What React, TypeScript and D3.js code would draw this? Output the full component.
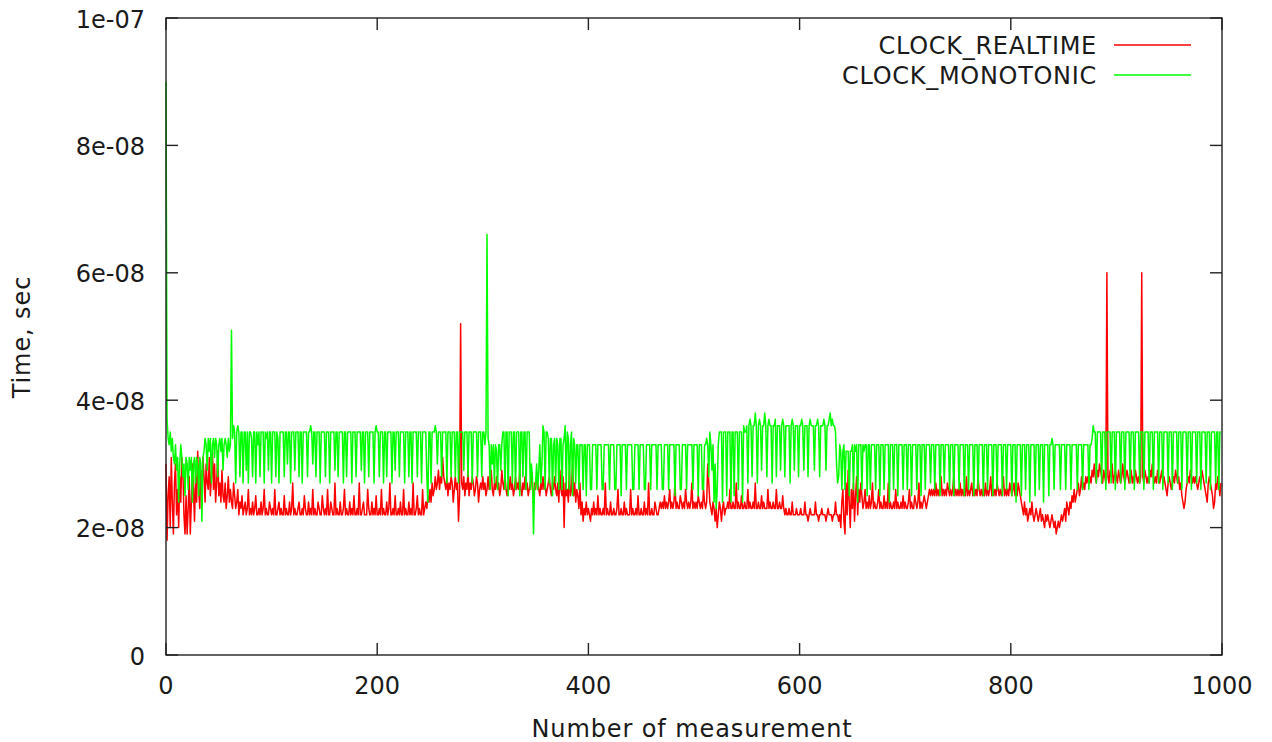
import React from 'react';
import * as d3 from 'd3';

// Tick values and labels
const xTicks = [0, 200, 400, 600, 800, 1000];
const yTicks = [0, 2e-8, 4e-8, 6e-8, 8e-8, 1e-7];
const yTickLabels = ['0', '2e-08', '4e-08', '6e-08', '8e-08', '1e-07'];

const seriesNames = ['CLOCK_REALTIME', 'CLOCK_MONOTONIC'];
const seriesColors = ['#ff0000', '#00ff00'];

// Measured call durations, nanoseconds, one value per measurement
const realtimeNs = [
  30, 18, 25, 28, 20, 31, 24, 19, 27, 30, 22, 26, 20, 28, 24, 31, 29, 22, 19, 25, 19, 23, 28, 19, 24,
  30, 26, 21, 28, 24, 32, 26, 23, 29, 25, 31, 28, 24, 30, 27, 26, 31, 25, 28, 32, 26, 30, 24, 27, 32,
  25, 27, 24, 29, 25, 24, 27, 23, 25, 28, 24, 26, 24, 23, 27, 25, 23, 24, 26, 22, 24, 23, 25, 22, 23,
  24, 22, 23, 26, 22, 23, 22, 24, 22, 23, 25, 22, 22, 23, 22, 24, 22, 23, 26, 22, 23, 22, 22, 24, 23,
  22, 23, 22, 26, 22, 22, 23, 24, 22, 23, 22, 22, 25, 22, 23, 22, 22, 24, 22, 23, 27, 22, 23, 22, 22,
  23, 24, 22, 22, 23, 22, 25, 23, 22, 22, 24, 22, 23, 22, 26, 22, 23, 22, 22, 24, 23, 22, 22, 25, 23,
  22, 23, 22, 26, 22, 22, 24, 23, 22, 22, 27, 22, 23, 22, 22, 24, 22, 22, 23, 26, 22, 23, 22, 22, 24,
  22, 23, 22, 25, 22, 22, 23, 22, 27, 22, 22, 23, 24, 22, 22, 22, 26, 23, 22, 22, 24, 22, 23, 22, 25,
  22, 22, 23, 22, 26, 22, 23, 22, 22, 24, 22, 23, 27, 22, 22, 23, 22, 25, 22, 22, 23, 22, 24, 22, 22,
  26, 22, 23, 22, 22, 24, 22, 23, 22, 27, 22, 22, 23, 25, 22, 23, 22, 22, 26, 22, 23, 24, 23, 25, 24,
  26, 24, 27, 25, 26, 28, 26, 27, 29, 26, 28, 27, 31, 28, 27, 26, 28, 25, 27, 26, 28, 27, 24, 26, 28,
  26, 27, 21, 25, 52, 27, 26, 28, 25, 27, 26, 29, 25, 27, 26, 28, 27, 25, 26, 28, 27, 24, 26, 27, 26,
  28, 26, 27, 25, 26, 28, 26, 27, 29, 26, 25, 27, 26, 28, 26, 27, 25, 26, 29, 27, 26, 28, 26, 25, 27,
  26, 28, 26, 27, 25, 26, 28, 26, 27, 26, 29, 26, 25, 27, 26, 28, 26, 27, 25, 26, 27, 28, 26, 25, 27,
  26, 28, 27, 26, 25, 27, 26, 28, 26, 27, 25, 26, 27, 28, 26, 25, 27, 26, 28, 26, 25, 27, 24, 29, 26,
  25, 28, 20, 27, 25, 26, 24, 29, 25, 26, 30, 25, 27, 24, 26, 25, 23, 27, 22, 24, 21, 23, 22, 24, 22,
  23, 22, 21, 23, 22, 24, 22, 23, 22, 25, 22, 23, 22, 22, 23, 22, 27, 22, 23, 22, 22, 24, 22, 22, 23,
  22, 22, 23, 26, 22, 22, 23, 22, 22, 24, 22, 23, 22, 22, 22, 26, 22, 23, 22, 22, 23, 22, 25, 22, 22,
  23, 22, 22, 24, 22, 23, 22, 27, 22, 22, 23, 22, 22, 24, 23, 22, 22, 23, 24, 23, 24, 23, 25, 23, 24,
  23, 24, 26, 23, 24, 23, 24, 27, 23, 24, 23, 23, 25, 24, 23, 24, 23, 26, 24, 23, 24, 23, 24, 27, 23,
  24, 23, 24, 23, 25, 24, 23, 24, 23, 26, 24, 23, 24, 30, 27, 24, 23, 22, 24, 23, 21, 23, 20, 22, 24,
  23, 21, 23, 24, 22, 23, 23, 24, 23, 26, 23, 23, 24, 23, 23, 27, 23, 24, 23, 23, 25, 23, 23, 24, 23,
  23, 26, 23, 24, 23, 23, 24, 23, 27, 23, 23, 24, 23, 23, 25, 23, 24, 23, 23, 23, 26, 23, 24, 23, 23,
  24, 23, 23, 26, 23, 23, 24, 23, 23, 25, 23, 22, 23, 22, 22, 23, 22, 22, 24, 22, 22, 22, 23, 22, 22,
  22, 23, 22, 22, 22, 24, 22, 22, 21, 22, 23, 22, 22, 22, 22, 24, 22, 22, 21, 22, 22, 23, 22, 22, 22,
  21, 22, 23, 22, 22, 22, 21, 22, 22, 24, 22, 22, 21, 22, 20, 24, 26, 21, 19, 27, 22, 29, 24, 20, 26,
  23, 27, 21, 25, 28, 22, 26, 24, 27, 25, 23, 24, 26, 23, 24, 23, 25, 23, 24, 27, 23, 24, 23, 23, 24,
  26, 23, 24, 23, 23, 25, 23, 24, 23, 27, 23, 24, 23, 23, 24, 23, 26, 23, 24, 23, 23, 24, 23, 25, 23,
  24, 23, 23, 24, 26, 23, 24, 23, 23, 25, 24, 23, 24, 27, 23, 24, 23, 24, 25, 24, 23, 24, 25, 26, 25,
  26, 25, 26, 25, 27, 25, 26, 25, 26, 28, 25, 26, 25, 26, 25, 27, 26, 25, 26, 25, 26, 28, 25, 26, 25,
  26, 25, 27, 25, 26, 25, 26, 25, 28, 25, 26, 25, 26, 27, 25, 26, 25, 26, 25, 28, 26, 25, 26, 25, 26,
  25, 27, 25, 26, 25, 26, 28, 25, 26, 25, 26, 25, 27, 26, 25, 26, 25, 26, 28, 25, 26, 25, 26, 25, 27,
  26, 25, 26, 27, 25, 26, 25, 27, 26, 25, 24, 23, 22, 24, 22, 23, 21, 22, 23, 22, 24, 22, 21, 22, 23,
  22, 21, 22, 23, 21, 22, 21, 20, 22, 21, 22, 21, 20, 21, 22, 21, 20, 21, 19, 20, 21, 20, 21, 22, 21,
  22, 23, 21, 24, 23, 22, 24, 23, 25, 24, 26, 24, 25, 26, 27, 25, 26, 28, 26, 27, 26, 28, 27, 28, 27,
  28, 27, 29, 28, 30, 28, 27, 29, 28, 30, 29, 28, 27, 29, 28, 27, 60, 28, 27, 29, 28, 30, 27, 28, 29,
  28, 27, 29, 28, 27, 28, 30, 28, 27, 28, 29, 28, 27, 28, 29, 27, 28, 27, 29, 28, 27, 28, 27, 28, 60,
  28, 27, 29, 28, 27, 28, 27, 29, 28, 30, 28, 27, 28, 27, 29, 28, 27, 28, 29, 27, 28, 27, 26, 25, 27,
  28, 27, 26, 27, 28, 27, 29, 28, 27, 28, 26, 27, 25, 24, 23, 24, 26, 27, 28, 27, 29, 28, 27, 28, 27,
  28, 27, 26, 27, 28, 27, 29, 28, 27, 26, 25, 24, 27, 28, 27, 26, 25, 23, 24, 27, 26, 28, 27, 25, 27,
];

const monotonicNs = [
  90, 37, 34, 33, 35, 32, 34, 31, 30, 33, 29, 31, 24, 30, 33, 31, 28, 30, 25, 31, 30, 26, 31, 29, 31,
  24, 30, 31, 27, 31, 30, 25, 31, 30, 21, 31, 32, 34, 33, 29, 34, 32, 34, 27, 33, 34, 31, 34, 33, 28,
  33, 34, 32, 34, 29, 33, 34, 33, 31, 34, 32, 33, 51, 34, 36, 35, 27, 35, 36, 35, 28, 35, 35, 27, 35,
  35, 29, 35, 27, 35, 35, 34, 28, 35, 35, 27, 35, 33, 35, 28, 35, 35, 35, 27, 35, 34, 35, 29, 35, 35,
  27, 35, 35, 35, 28, 35, 34, 27, 35, 35, 35, 35, 28, 35, 35, 30, 35, 35, 27, 35, 35, 35, 29, 35, 35,
  35, 28, 35, 35, 27, 35, 35, 35, 35, 28, 35, 35, 36, 35, 30, 35, 35, 28, 35, 35, 35, 27, 35, 35, 35,
  35, 28, 35, 35, 35, 27, 35, 35, 35, 35, 29, 35, 35, 28, 35, 35, 35, 35, 27, 35, 35, 28, 35, 35, 35,
  35, 27, 35, 35, 35, 28, 35, 35, 35, 35, 29, 35, 35, 27, 35, 35, 35, 28, 35, 35, 35, 35, 27, 35, 36,
  35, 35, 28, 35, 35, 35, 27, 35, 35, 28, 35, 35, 35, 35, 27, 35, 35, 29, 35, 35, 35, 28, 35, 35, 35,
  35, 27, 35, 35, 35, 28, 35, 35, 27, 35, 35, 35, 35, 28, 35, 35, 35, 27, 35, 35, 35, 35, 28, 24, 35,
  35, 27, 35, 35, 35, 36, 35, 30, 35, 35, 35, 28, 35, 35, 35, 35, 27, 35, 35, 35, 28, 35, 35, 35, 28,
  35, 35, 27, 35, 35, 35, 35, 29, 35, 35, 35, 28, 35, 35, 35, 27, 35, 35, 35, 35, 28, 35, 35, 35, 28,
  35, 35, 33, 35, 66, 34, 33, 26, 33, 30, 33, 27, 33, 32, 26, 33, 33, 29, 33, 35, 35, 26, 35, 35, 25,
  35, 35, 35, 27, 35, 35, 26, 35, 35, 35, 25, 35, 35, 28, 35, 35, 26, 35, 35, 35, 26, 30, 28, 19, 26,
  27, 30, 26, 29, 33, 27, 30, 36, 35, 26, 35, 35, 34, 27, 34, 34, 25, 33, 34, 27, 34, 33, 26, 34, 34,
  26, 33, 34, 36, 26, 35, 34, 26, 33, 35, 25, 34, 33, 27, 33, 33, 26, 33, 33, 33, 26, 33, 33, 25, 33,
  33, 33, 26, 26, 33, 33, 33, 33, 26, 33, 33, 33, 33, 26, 26, 33, 33, 33, 33, 33, 26, 33, 33, 33, 33,
  26, 26, 33, 33, 33, 33, 25, 33, 33, 33, 33, 26, 33, 33, 33, 33, 33, 26, 26, 33, 33, 33, 33, 26, 33,
  33, 33, 33, 26, 26, 33, 33, 33, 33, 26, 33, 33, 33, 33, 33, 26, 33, 33, 33, 33, 26, 26, 33, 33, 33,
  33, 26, 33, 33, 33, 33, 33, 25, 33, 33, 33, 33, 26, 26, 33, 33, 33, 33, 26, 33, 33, 33, 33, 33, 26,
  33, 33, 33, 33, 25, 33, 33, 33, 26, 26, 33, 33, 34, 33, 28, 35, 33, 29, 33, 24, 30, 23, 26, 33, 35,
  35, 35, 24, 35, 35, 35, 25, 35, 35, 35, 24, 35, 35, 25, 35, 35, 35, 26, 35, 35, 35, 24, 36, 35, 35,
  36, 27, 36, 37, 36, 28, 36, 36, 38, 36, 27, 36, 37, 36, 29, 36, 36, 38, 36, 28, 36, 37, 36, 36, 27,
  36, 36, 37, 28, 36, 36, 36, 29, 36, 37, 36, 28, 36, 36, 36, 36, 27, 36, 37, 36, 29, 36, 36, 36, 28,
  36, 36, 37, 36, 29, 36, 36, 36, 28, 36, 37, 36, 36, 36, 29, 36, 36, 37, 36, 28, 36, 36, 36, 37, 36,
  29, 36, 36, 37, 38, 36, 37, 36, 36, 35, 30, 27, 28, 33, 32, 26, 32, 33, 26, 32, 32, 32, 25, 32, 32,
  33, 26, 33, 32, 33, 24, 33, 33, 33, 26, 33, 32, 33, 33, 25, 33, 33, 26, 33, 33, 33, 33, 26, 33, 33,
  33, 25, 33, 33, 33, 26, 33, 33, 33, 33, 24, 33, 33, 33, 26, 33, 33, 33, 25, 33, 33, 33, 33, 26, 33,
  33, 33, 26, 33, 33, 33, 25, 33, 33, 33, 33, 26, 33, 33, 33, 25, 33, 33, 33, 26, 33, 33, 33, 33, 27,
  33, 33, 33, 26, 33, 33, 33, 33, 25, 33, 33, 33, 27, 33, 33, 33, 33, 26, 33, 33, 33, 25, 33, 33, 33,
  33, 26, 33, 33, 33, 33, 25, 33, 33, 33, 26, 33, 33, 33, 33, 25, 33, 33, 33, 26, 33, 33, 33, 33, 25,
  33, 33, 33, 26, 33, 33, 33, 33, 25, 33, 33, 33, 26, 33, 33, 33, 33, 25, 33, 33, 33, 26, 33, 33, 33,
  33, 25, 33, 33, 33, 24, 33, 33, 33, 33, 25, 33, 33, 33, 26, 33, 33, 33, 24, 33, 33, 33, 33, 25, 33,
  33, 33, 26, 33, 33, 33, 24, 33, 33, 33, 33, 25, 33, 33, 34, 33, 26, 33, 33, 33, 33, 33, 26, 33, 33,
  33, 33, 26, 33, 33, 33, 33, 26, 33, 33, 33, 33, 33, 26, 33, 33, 33, 33, 26, 33, 33, 33, 33, 33, 26,
  33, 33, 34, 36, 35, 35, 27, 35, 35, 35, 35, 27, 35, 35, 35, 26, 35, 35, 35, 35, 27, 35, 35, 35, 26,
  35, 35, 35, 35, 27, 35, 35, 35, 26, 35, 35, 35, 35, 27, 35, 35, 35, 26, 35, 35, 35, 35, 27, 35, 35,
  35, 26, 35, 35, 35, 35, 27, 35, 35, 35, 26, 35, 35, 35, 35, 27, 35, 35, 35, 26, 35, 35, 35, 35, 27,
  35, 35, 35, 26, 35, 35, 35, 35, 27, 35, 35, 35, 26, 35, 35, 35, 35, 27, 35, 35, 35, 26, 35, 35, 35,
  35, 27, 35, 35, 35, 26, 35, 35, 35, 35, 27, 35, 35, 35, 26, 35, 35, 35, 35, 27, 35, 35, 26, 35, 35,
];

const W = 1272;
const H = 742;
const plot = { left: 166, right: 1222, top: 18, bottom: 655 };
const FONT = "'DejaVu Sans', sans-serif";
const TEXT = '#1a1a1a';
const AXIS = '#222';
const TICK = 12;
const FS = 24;

export default function App() {
  const x = d3.scaleLinear().domain([0, 1000]).range([plot.left, plot.right]);
  const y = d3.scaleLinear().domain([0, 1e-7]).range([plot.bottom, plot.top]);
  const line = d3
    .line<number>()
    .x((_, i) => x(i))
    .y((d) => y(d * 1e-9));

  const series = [realtimeNs, monotonicNs];

  return (
    <svg
      width={W}
      height={H}
      style={{ position: 'fixed', left: 0, top: 0, background: '#fff' }}
      fontFamily={FONT}
    >
      <rect x={0} y={0} width={W} height={H} fill="#fff" />

      {/* data lines, realtime first so monotonic sits on top */}
      <g fill="none" strokeWidth={1.5} strokeLinejoin="round">
        {series.map((s, k) => (
          <path key={k} d={line(s) ?? ''} stroke={seriesColors[k]} />
        ))}
      </g>

      {/* frame */}
      <rect
        x={plot.left}
        y={plot.top}
        width={plot.right - plot.left}
        height={plot.bottom - plot.top}
        fill="none"
        stroke={AXIS}
        strokeWidth={1.4}
      />

      {/* y ticks, mirrored on the right */}
      {yTicks.map((t, i) => (
        <g key={`y${i}`}>
          <line x1={plot.left} x2={plot.left + TICK} y1={y(t)} y2={y(t)} stroke={AXIS} strokeWidth={1.4} />
          <line x1={plot.right} x2={plot.right - TICK} y1={y(t)} y2={y(t)} stroke={AXIS} strokeWidth={1.4} />
          <text
            x={plot.left - 21}
            y={y(t) + 1.5}
            textAnchor="end"
            dominantBaseline="central"
            fontSize={FS}
            fill={TEXT}
          >
            {yTickLabels[i]}
          </text>
        </g>
      ))}

      {/* x ticks, mirrored on the top */}
      {xTicks.map((t) => (
        <g key={`x${t}`}>
          <line x1={x(t)} x2={x(t)} y1={plot.bottom} y2={plot.bottom - TICK} stroke={AXIS} strokeWidth={1.4} />
          <line x1={x(t)} x2={x(t)} y1={plot.top} y2={plot.top + TICK} stroke={AXIS} strokeWidth={1.4} />
          <text x={x(t)} y={686} textAnchor="middle" dominantBaseline="central" fontSize={FS} fill={TEXT}>
            {t}
          </text>
        </g>
      ))}

      {/* axis titles */}
      <text
        x={692}
        y={729}
        textAnchor="middle"
        dominantBaseline="central"
        fontSize={FS}
        letterSpacing={0.9}
        fill={TEXT}
      >
        Number of measurement
      </text>
      <text
        transform="translate(22, 337) rotate(-90)"
        textAnchor="middle"
        dominantBaseline="central"
        fontSize={FS}
        letterSpacing={0.9}
        fill={TEXT}
      >
        Time, sec
      </text>

      {/* legend */}
      {seriesNames.map((name, k) => (
        <g key={name}>
          <text
            x={1097}
            y={46 + k * 30}
            textAnchor="end"
            dominantBaseline="central"
            fontSize={FS}
            letterSpacing={0.7}
            fill={TEXT}
          >
            {name}
          </text>
          <line
            x1={1114}
            x2={1191}
            y1={45 + k * 30}
            y2={45 + k * 30}
            stroke={seriesColors[k]}
            strokeWidth={1.5}
          />
        </g>
      ))}
    </svg>
  );
}
